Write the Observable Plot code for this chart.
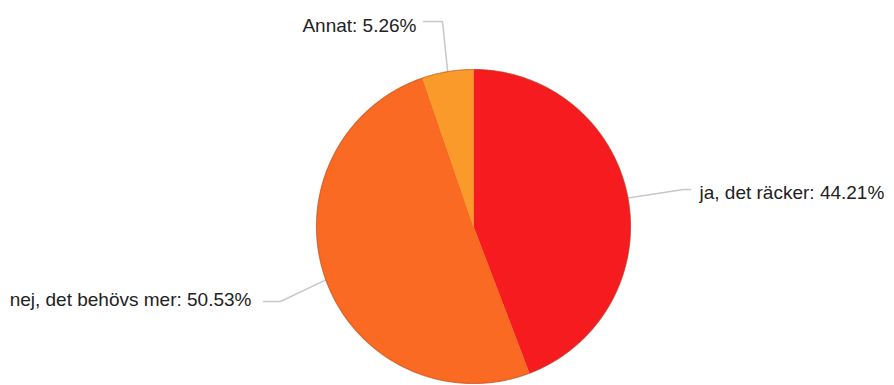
<!DOCTYPE html>
<html>
<head>
<meta charset="utf-8">
<script src="https://cdn.jsdelivr.net/npm/d3@7"></script>
<script src="https://cdn.jsdelivr.net/npm/@observablehq/plot@0.6"></script>
<style>
  html, body { margin: 0; padding: 0; background: #fff; }
  #chart svg { display: block; }
</style>
</head>
<body>
<div id="chart"></div>
<script>
// ---- data ----
const categories = ["ja, det räcker", "nej, det behövs mer", "Annat"];
const values = [44.21, 50.53, 5.26];
const valueLabels = ["44.21%", "50.53%", "5.26%"];
const colors = ["#f61b1f", "#fa6a22", "#f99a2b"];

// ---- layout ----
const W = 894, H = 385;
const cx = 473, cy = 226, R = 157;
// label layout: elbow, end of leader, text anchor
const labelLayout = {
  "ja, det räcker":      {elbow: [683, 189], end: [690, 189], text: [699, 192], anchor: "start"},
  "nej, det behövs mer": {elbow: [280, 301], end: [263, 301], text: [251, 299], anchor: "end"},
  "Annat":               {elbow: [442, 21],  end: [423, 21],  text: [416, 25],  anchor: "end"}
};

const rows = categories.map((c, i) => ({cat: c, value: values[i], label: `${c}: ${valueLabels[i]}`}));
const arcs = d3.pie().sort(null).value(d => d.value)(rows);
const px = a => cx + R * Math.sin(a);
const py = a => cy - R * Math.cos(a);

// slice polygons
const slicePts = [];
arcs.forEach(a => {
  slicePts.push({cat: a.data.cat, x: cx, y: cy});
  const n = Math.max(4, Math.ceil((a.endAngle - a.startAngle) / (Math.PI / 360)));
  for (let k = 0; k <= n; k++) {
    const t = a.startAngle + (a.endAngle - a.startAngle) * k / n;
    slicePts.push({cat: a.data.cat, x: px(t), y: py(t)});
  }
  slicePts.push({cat: a.data.cat, x: cx, y: cy});
});

// rim
const rim = d3.range(0, 721).map(k => ({x: px(k * Math.PI / 360), y: py(k * Math.PI / 360)}));

// leaders
const leaders = [];
const labels = [];
arcs.forEach(a => {
  const L = labelLayout[a.data.cat];
  const mid = (a.startAngle + a.endAngle) / 2;
  leaders.push({cat: a.data.cat, x: px(mid), y: py(mid)});
  leaders.push({cat: a.data.cat, x: L.elbow[0], y: L.elbow[1]});
  leaders.push({cat: a.data.cat, x: L.end[0], y: L.end[1]});
  labels.push({label: a.data.label, x: L.text[0], y: L.text[1], anchor: L.anchor});
});

const chart = Plot.plot({
  width: W, height: H,
  margin: 0,
  x: {domain: [0, W], range: [0, W], axis: null},
  y: {domain: [0, H], range: [0, H], axis: null},
  color: {domain: categories, range: colors},
  style: {background: "#fff", fontFamily: "'Liberation Sans', Helvetica, Arial, sans-serif"},
  marks: [
    Plot.line(leaders, {x: "x", y: "y", z: "cat", stroke: "#c8c8c8", strokeWidth: 1.5, curve: "linear"}),
    Plot.line(slicePts, {x: "x", y: "y", z: "cat", fill: "cat", stroke: "cat", strokeWidth: 0.5, curve: "linear"}),
    Plot.line(rim, {x: "x", y: "y", stroke: "#a8401c", strokeOpacity: 0.45, strokeWidth: 1.2, curve: "linear"}),
    Plot.text(labels.filter(d => d.anchor === "start"), {x: "x", y: "y", text: "label", textAnchor: "start", fontSize: 19, fill: "#222"}),
    Plot.text(labels.filter(d => d.anchor === "end"), {x: "x", y: "y", text: "label", textAnchor: "end", fontSize: 19, fill: "#222"})
  ]
});
document.getElementById("chart").appendChild(chart);
</script>
</body>
</html>
